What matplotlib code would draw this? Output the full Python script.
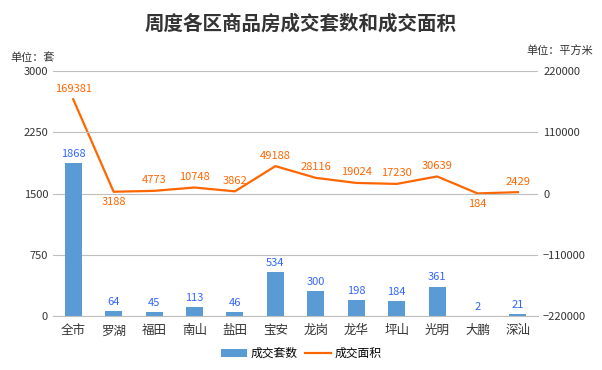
import matplotlib.pyplot as plt
import numpy as np

plt.rcParams['font.family'] = ['Noto Sans CJK SC', 'DejaVu Sans']

districts = ['全市', '罗湖', '福田', '南山', '盐田', '宝安', '龙岗', '龙华', '坪山', '光明', '大鹏', '深汕']
units = [1868, 64, 45, 113, 46, 534, 300, 198, 184, 361, 2, 21]
area = [169381, 3188, 4773, 10748, 3862, 49188, 28116, 19024, 17230, 30639, 184, 2429]
below = [False, True, False, False, False, False, False, False, False, False, True, False]

bar_c = '#5B9BD5'
line_c = '#FF6600'
grid_c = '#BFBFBF'

fig = plt.figure(figsize=(6.02, 3.7), dpi=100)
ax = fig.add_axes([0.088, 0.146, 0.806, 0.662])
ax2 = ax.twinx()

x = np.arange(len(districts))
ax.bar(x, units, width=0.42, color=bar_c, label='成交套数', zorder=2)
for xi, v in zip(x, units):
    ax.annotate(str(v), (xi, v), xytext=(0, 3), textcoords='offset points',
                ha='center', va='bottom', color='#3366FF', fontsize=8)

ax.set_ylim(0, 3000)
ax.set_yticks([0, 750, 1500, 2250, 3000])
ax.set_xlim(-0.5, len(districts) - 0.5)
ax.set_xticks(x)
ax.set_xticklabels(districts, fontsize=9)
ax.grid(axis='y', color=grid_c, lw=0.8, zorder=0)
ax.set_axisbelow(True)

ax2.plot(x, area, color=line_c, lw=1.6, label='成交面积', zorder=3)
for xi, v, b in zip(x, area, below):
    ax2.annotate(str(v), (xi, v), xytext=(0, -4 if b else 4), textcoords='offset points',
                 ha='center', va='top' if b else 'bottom', color=line_c, fontsize=8)
ax2.set_ylim(-220000, 220000)
ax2.set_yticks([-220000, -110000, 0, 110000, 220000])

for a in (ax, ax2):
    for s in a.spines.values():
        s.set_visible(False)
    a.tick_params(length=0, labelsize=8, colors='#333333')
ax.spines['bottom'].set_visible(True)
ax.spines['bottom'].set_color(grid_c)
ax.tick_params(axis='x', labelsize=9, pad=6)
ax.set_zorder(ax2.get_zorder() + 1)
ax.patch.set_visible(False)
ax2.set_zorder(0)

fig.text(0.5, 0.935, '周度各区商品房成交套数和成交面积', ha='center', va='center',
         fontsize=14, fontweight='bold', color='#333333')
fig.text(0.017, 0.845, '单位：套', ha='left', va='center', fontsize=8, color='#333333')
fig.text(0.985, 0.865, '单位：平方米', ha='right', va='center', fontsize=8, color='#333333')

h1, l1 = ax.get_legend_handles_labels()
h2, l2 = ax2.get_legend_handles_labels()
fig.legend(h1 + h2, l1 + l2, loc='center', bbox_to_anchor=(0.5, 0.045), ncol=2,
           frameon=False, fontsize=8.5, handlelength=2.2, columnspacing=0.6, handletextpad=0.3)

fig.savefig('out.png', dpi=100)
